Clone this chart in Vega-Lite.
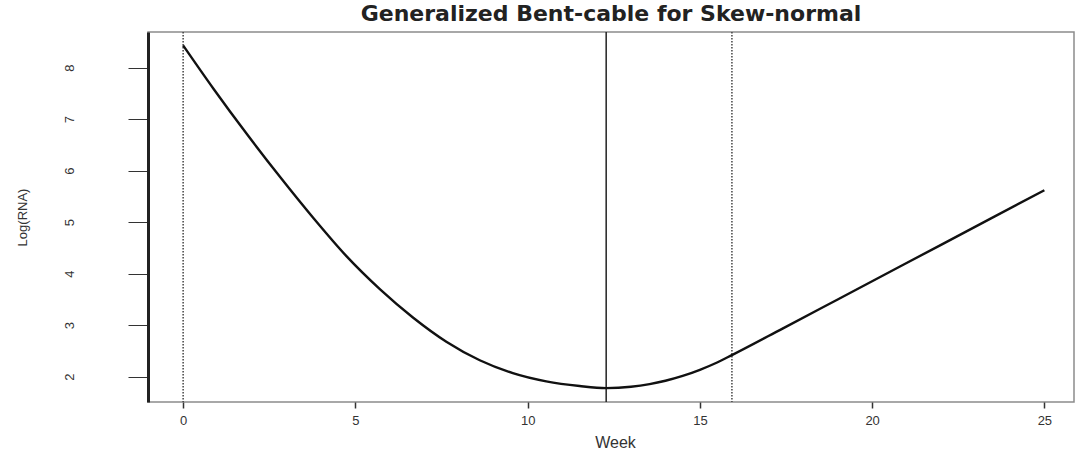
{
  "$schema": "https://vega.github.io/schema/vega-lite/v6.json",
  "autosize": "none",
  "width": 926,
  "height": 370,
  "padding": {"left": 148, "top": 32, "right": 3, "bottom": 49},
  "background": "white",
  "config": {
    "view": {"stroke": "#8c8c8c", "strokeWidth": 1.5},
    "font": "Liberation Sans"
  },
  "title": {
    "text": "Generalized Bent-cable for Skew-normal",
    "font": "DejaVu Sans",
    "fontWeight": "bold",
    "fontSize": 22,
    "color": "#222222",
    "anchor": "middle",
    "frame": "group",
    "offset": 5
  },
  "datasets": {
    "curve": [
      {"week": 0, "rna": 8.43},
      {"week": 0.88, "rna": 7.59},
      {"week": 1.85, "rna": 6.71},
      {"week": 2.81, "rna": 5.88},
      {"week": 3.78, "rna": 5.08},
      {"week": 4.74, "rna": 4.34},
      {"week": 5.71, "rna": 3.70},
      {"week": 6.67, "rna": 3.15},
      {"week": 7.64, "rna": 2.68},
      {"week": 8.61, "rna": 2.32},
      {"week": 9.57, "rna": 2.07},
      {"week": 10.54, "rna": 1.91},
      {"week": 11.51, "rna": 1.82},
      {"week": 12.28, "rna": 1.78},
      {"week": 13.0, "rna": 1.805},
      {"week": 13.54, "rna": 1.856},
      {"week": 14.0, "rna": 1.922},
      {"week": 14.5, "rna": 2.016},
      {"week": 15.0, "rna": 2.135},
      {"week": 15.5, "rna": 2.277},
      {"week": 15.93, "rna": 2.42},
      {"week": 17.4, "rna": 2.935},
      {"week": 19.0, "rna": 3.50},
      {"week": 22.0, "rna": 4.56},
      {"week": 25.0, "rna": 5.62}
    ],
    "vlines": [
      {"week": 0, "kind": "dotted"},
      {"week": 12.28, "kind": "solid"},
      {"week": 15.93, "kind": "dotted"}
    ]
  },
  "layer": [
    {
      "data": {"name": "vlines"},
      "transform": [{"filter": "datum.kind === 'dotted'"}],
      "mark": {"type": "rule", "color": "#444444", "strokeWidth": 1.5, "strokeDash": [1.5, 1.5]},
      "encoding": {
        "x": {"field": "week", "type": "quantitative", "scale": {"domain": [-1.02, 25.86]}}
      }
    },
    {
      "data": {"name": "vlines"},
      "transform": [{"filter": "datum.kind === 'solid'"}],
      "mark": {"type": "rule", "color": "#222222", "strokeWidth": 1.5},
      "encoding": {
        "x": {"field": "week", "type": "quantitative"}
      }
    },
    {
      "data": {"name": "curve"},
      "mark": {"type": "line", "color": "#111111", "strokeWidth": 2.4, "interpolate": "monotone"},
      "encoding": {
        "x": {
          "field": "week",
          "type": "quantitative",
          "scale": {"domain": [-1.02, 25.86], "nice": false, "zero": false},
          "axis": {
            "title": "Week",
            "values": [0, 5, 10, 15, 20, 25],
            "domain": false,
            "grid": false,
            "tickColor": "#333333",
            "tickSize": 6,
            "tickWidth": 1.5,
            "labelFont": "Liberation Sans",
            "labelFontSize": 13,
            "labelColor": "#333333",
            "labelPadding": 6,
            "titleFont": "Liberation Sans",
            "titleFontSize": 16,
            "titleFontWeight": "normal",
            "titleColor": "#333333",
            "titleX": 467,
            "titleY": 40,
            "titleBaseline": "middle",
            "titleAlign": "center"
          }
        },
        "y": {
          "field": "rna",
          "type": "quantitative",
          "scale": {"domain": [1.51, 8.69], "nice": false, "zero": false},
          "axis": {
            "title": "Log(RNA)",
            "values": [2, 3, 4, 5, 6, 7, 8],
            "grid": false,
            "domain": true,
            "domainColor": "#222222",
            "domainWidth": 3,
            "tickColor": "#333333",
            "tickSize": 20,
            "tickWidth": 1,
            "labelAngle": -90,
            "labelAlign": "center",
            "labelBaseline": "bottom",
            "labelFont": "Liberation Sans",
            "labelFontSize": 13,
            "labelColor": "#333333",
            "labelPadding": 52,
            "titleFont": "Liberation Sans",
            "titleFontSize": 13,
            "titleFontWeight": "normal",
            "titleColor": "#333333",
            "titleX": -126,
            "titleY": 185,
            "titleAngle": -90,
            "titleAlign": "center",
            "titleBaseline": "middle"
          }
        }
      }
    }
  ]
}
